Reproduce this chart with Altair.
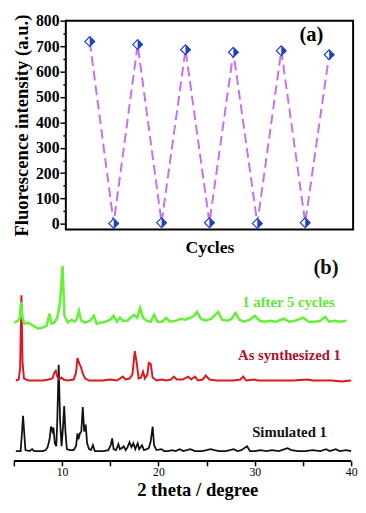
import altair as alt
import pandas as pd

FONT = "Liberation Serif"

# ---------- panel (a) data ----------
cycles = [1, 2, 3, 4, 5, 6, 7, 8, 9, 10, 11]
intensity = [718, 2, 706, 5, 686, 5, 676, 2, 682, 5, 666]

# ---------- panel (b) data: 2theta (deg) and intensity (arb. units, offset) ----------
green_x = [5.0, 5.3, 5.6, 5.75, 5.9, 6.1, 6.5, 7.0, 7.5, 8.0, 8.4, 8.7, 8.9, 9.2, 9.5, 9.8, 10.05, 10.25,
           10.6, 11.0, 11.3, 11.5, 11.75, 12.0, 12.4, 12.9, 13.3, 13.6, 14.0, 14.5, 15.0, 15.35, 15.7,
           16.0, 16.3, 16.8, 17.2, 17.5, 17.8, 18.1, 18.4, 18.8, 19.2, 19.55, 19.9, 20.4, 20.8, 21.2,
           21.8, 22.3, 22.8, 23.3, 23.7, 24.0, 24.4, 24.9, 25.5, 26.2, 26.6, 27.2, 27.6, 28.0, 28.4,
           28.9, 29.5, 30.0, 30.5, 31.0, 31.6, 32.2, 33.0, 33.6, 34.2, 35.0, 35.6, 36.2, 36.8, 37.3,
           37.7, 38.3, 38.9, 39.5]
green_y = [141, 142, 145, 162, 146, 140, 141, 138, 135, 136, 138, 150, 140, 141, 146, 162, 199, 148,
           141, 144, 142, 144, 153, 143, 141, 143, 148, 140, 141, 142, 144, 148, 142,
           146, 143, 143, 147, 149, 146, 156, 146, 143, 142, 149, 142, 142, 146, 142,
           143, 145, 144, 146, 148, 152, 145, 143, 145, 152, 144, 143, 145, 151, 144,
           142, 144, 148, 143, 142, 143, 142, 145, 142, 143, 146, 142, 142, 143, 147,
           142, 143, 142, 143]

red_x = [5.2, 5.5, 5.65, 5.78, 5.9, 6.05, 6.5, 7.2, 8.0, 8.6, 9.0, 9.2, 9.35, 9.5, 9.7, 9.95, 10.15,
         10.6, 11.2, 11.45, 11.6, 11.8, 11.95, 12.15, 12.4, 12.8, 13.5, 14.2, 15.0, 15.7, 16.3, 16.6,
         17.0, 17.3, 17.55, 17.75, 17.95, 18.2, 18.4, 18.6, 18.85, 19.0, 19.2, 19.4, 19.8, 20.3, 20.8,
         21.3, 21.6, 21.9, 22.5, 23.1, 23.4, 23.8, 24.1, 24.6, 24.9, 25.3, 26.0, 27.0, 27.8, 28.5,
         28.8, 29.1, 30.0, 30.3, 31.0, 32.0, 33.0, 34.0, 35.5, 36.0, 37.0, 38.0, 39.0, 40.0]
red_y = [82, 83, 95, 169, 100, 84, 82, 82, 82, 83, 84, 90, 92, 86, 83, 85, 83,
         82, 83, 90, 105, 99, 96, 89, 84, 82, 82, 82, 83, 82, 86, 83,
         84, 88, 112, 100, 84, 85, 91, 84, 88, 100, 99, 85, 82, 83, 82,
         83, 86, 83, 83, 86, 83, 86, 82, 83, 87, 83, 82, 82, 82, 83,
         86, 82, 83, 82, 82, 82, 82, 82, 83, 82, 82, 82, 81, 82]

black_x = [5.2, 5.7, 5.85, 5.95, 6.05, 6.2, 6.6, 6.9, 7.1, 7.6, 8.0, 8.3, 8.5, 8.7, 8.85, 9.0, 9.1,
           9.25, 9.4, 9.5, 9.65, 9.8, 9.95, 10.1, 10.22, 10.35, 10.5, 10.8, 11.2, 11.45, 11.6, 11.7,
           11.85, 12.0, 12.15, 12.3, 12.45, 12.6, 12.8, 13.0, 13.2, 13.4, 13.8, 14.3, 14.8, 15.05,
           15.2, 15.35, 15.6, 15.85, 16.0, 16.2, 16.4, 16.6, 16.8, 17.0, 17.2, 17.4, 17.6, 17.85,
           18.0, 18.3, 18.5, 18.8, 19.0, 19.2, 19.4, 19.55, 19.8, 20.3, 20.6, 21.0, 21.4, 21.8, 22.2,
           22.6, 23.3, 23.8, 24.5, 25.0, 25.4, 25.8, 26.3, 27.0, 27.8, 28.2, 28.6, 29.2, 29.5, 30.0,
           30.6, 31.2, 31.8, 32.5, 33.4, 33.8, 34.5, 35.2, 36.0, 36.8, 37.4, 37.8, 38.4, 38.8, 39.5,
           40.0]
black_y = [10, 10, 30, 46, 32, 11, 10, 12, 10, 10, 10, 11, 14, 22, 35, 30, 34,
           18, 15, 40, 98, 40, 15, 35, 56, 30, 12, 11, 11, 15, 28, 22,
           28, 30, 55, 30, 37, 18, 12, 11, 16, 10, 10, 10, 11, 16,
           23, 12, 11, 17, 12, 13, 15, 11, 14, 19, 14, 18, 12, 18,
           12, 16, 11, 12, 13, 20, 35, 16, 11, 12, 10, 10, 11, 10, 12,
           10, 12, 10, 10, 11, 12, 11, 10, 10, 12, 10, 11, 15, 10, 10,
           11, 10, 11, 10, 13, 11, 10, 10, 11, 10, 12, 10, 12, 10, 11,
           10]

labels_b = ["1 after 5 cycles", "As synthesized 1", "Simulated 1", "(b)"]
labels_b_x = [33.5, 33.6, 33.6, 37.4]
labels_b_y = [162, 108, 29, 197]
labels_b_color = ["#5ee838", "#b0102e", "#111111", "#111111"]
labels_b_size = [15, 15, 15, 21]

# axis extents of the two panels (data units)
a_x_range = [0, 12]
a_y_range = [-22, 800]
b_x_range = [5, 40]

BLUE = "#1f3fc4"
VIOLET = "#c86ef0"

# Both panels live in one plot area (350 x 457); each panel's scale domain is padded
# so that its data region sits in its own part of that area.
W, H = 350, 457

# ---------- panel (a) ----------
df_a = pd.DataFrame({"cycle": cycles, "intensity": intensity})

xa_scale = alt.Scale(domain=[-2.293, 12.041], nice=False, zero=False)
ya_scale = alt.Scale(domain=[-932.8, 830.9], nice=False, zero=False)

xa = alt.X("cycle:Q", scale=xa_scale,
           axis=alt.Axis(orient="bottom", offset=-236, title="Cycles", labels=False, ticks=False,
                         domain=False, grid=False, titleFont=FONT, titleFontSize=18,
                         titleFontWeight="bold", titleColor="black", titlePadding=9,
                         titleX=202.5, titleAnchor="middle"))
ya = alt.Y("intensity:Q", scale=ya_scale,
           axis=alt.Axis(orient="left", offset=-56, title="Fluorescence intensity (a.u.)", grid=False,
                         domain=False, values=list(range(0, 801, 50)),
                         labelExpr="datum.value % 100 == 0 ? datum.label : ''",
                         tickSize={"condition": {"test": "datum.value % 100 != 0", "value": 3}, "value": 6},
                         tickColor="black", tickWidth=1.5,
                         labelFont=FONT, labelFontSize=16, labelFontWeight="bold", labelColor="black",
                         labelPadding=1,
                         titleFont=FONT, titleFontSize=19, titleFontWeight="bold", titleColor="black",
                         titlePadding=4, titleY=114.5, titleAnchor="middle"))

df_frame = pd.DataFrame({"cycle": [a_x_range[0]], "cycle2": [a_x_range[1]],
                         "intensity": [a_y_range[0]], "intensity2": [a_y_range[1]]})
frame_a = alt.Chart(df_frame).mark_rect(filled=False, stroke="black", strokeWidth=2).encode(
    x=xa, x2="cycle2:Q", y=ya, y2="intensity2:Q")
line_a = alt.Chart(df_a).mark_line(color=VIOLET, strokeDash=[10, 5], strokeWidth=2).encode(x=xa, y=ya)
pts_open = alt.Chart(df_a).mark_point(shape="diamond", filled=True, fill="white", stroke=BLUE,
                                      strokeWidth=1.2, size=100, opacity=1).encode(x=xa, y=ya)
pts_half = alt.Chart(df_a).mark_point(shape="M0,-1L1,0L0,1Z", filled=True, color=BLUE,
                                      size=100, opacity=1).encode(x=xa, y=ya)
lab_a = alt.Chart(pd.DataFrame({"cycle": [10.26], "intensity": [742], "t": ["(a)"]})).mark_text(
    font=FONT, fontSize=21, fontWeight="bold", color="black").encode(x=xa, y=ya, text="t:N")

panel_a = alt.layer(frame_a, line_a, pts_open, pts_half, lab_a)

# ---------- panel (b) ----------
xb = alt.X("theta:Q", scale=alt.Scale(domain=[4.695, 40.305], nice=False, zero=False),
           axis=alt.Axis(orient="bottom", title="2 theta / degree", grid=False, domain=False,
                         values=list(range(5, 41, 5)),
                         labelExpr="datum.value % 10 == 0 ? datum.label : ''",
                         tickColor="black", tickWidth=1.5, tickSize=5,
                         labelFont=FONT, labelFontSize=12, labelColor="black", labelPadding=1,
                         titleFont=FONT, titleFontSize=19, titleFontWeight="bold", titleColor="black",
                         titlePadding=3, titleX=190, titleAnchor="middle"))
yb = alt.Y("inten:Q", scale=alt.Scale(domain=[0, 457], nice=False, zero=False), axis=None)

df_g = pd.DataFrame({"theta": green_x, "inten": green_y})
df_r = pd.DataFrame({"theta": red_x, "inten": red_y})
df_k = pd.DataFrame({"theta": black_x, "inten": black_y})
df_axis = pd.DataFrame({"theta": [b_x_range[0]], "theta2": [b_x_range[1]], "inten": [0]})

axis_b = alt.Chart(df_axis).mark_rule(color="black", strokeWidth=2).encode(x=xb, x2="theta2:Q", y=yb)
g_line = alt.Chart(df_g).mark_line(color="#66f03c", strokeWidth=2.6).encode(x=xb, y=yb)
r_line = alt.Chart(df_r).mark_line(color="#e0161e", strokeWidth=2).encode(x=xb, y=yb)
k_line = alt.Chart(df_k).mark_line(color="#111111", strokeWidth=1.8).encode(x=xb, y=yb)

df_lb = pd.DataFrame({"theta": labels_b_x, "inten": labels_b_y, "t": labels_b,
                      "c": labels_b_color, "s": labels_b_size})
txt_b = alt.Chart(df_lb).mark_text(font=FONT, fontWeight="bold").encode(
    x=xb, y=yb, text="t:N",
    color=alt.Color("c:N", scale=None),
    size=alt.Size("s:Q", scale=None))

panel_b = alt.layer(axis_b, k_line, r_line, g_line, txt_b)

chart = alt.layer(panel_a, panel_b).resolve_scale(
    x="independent", y="independent").resolve_axis(
    x="independent", y="independent").properties(
    width=W, height=H, padding=0).configure_view(stroke=None)

chart.save("out.html", embed_options={"renderer": "svg", "actions": False})
